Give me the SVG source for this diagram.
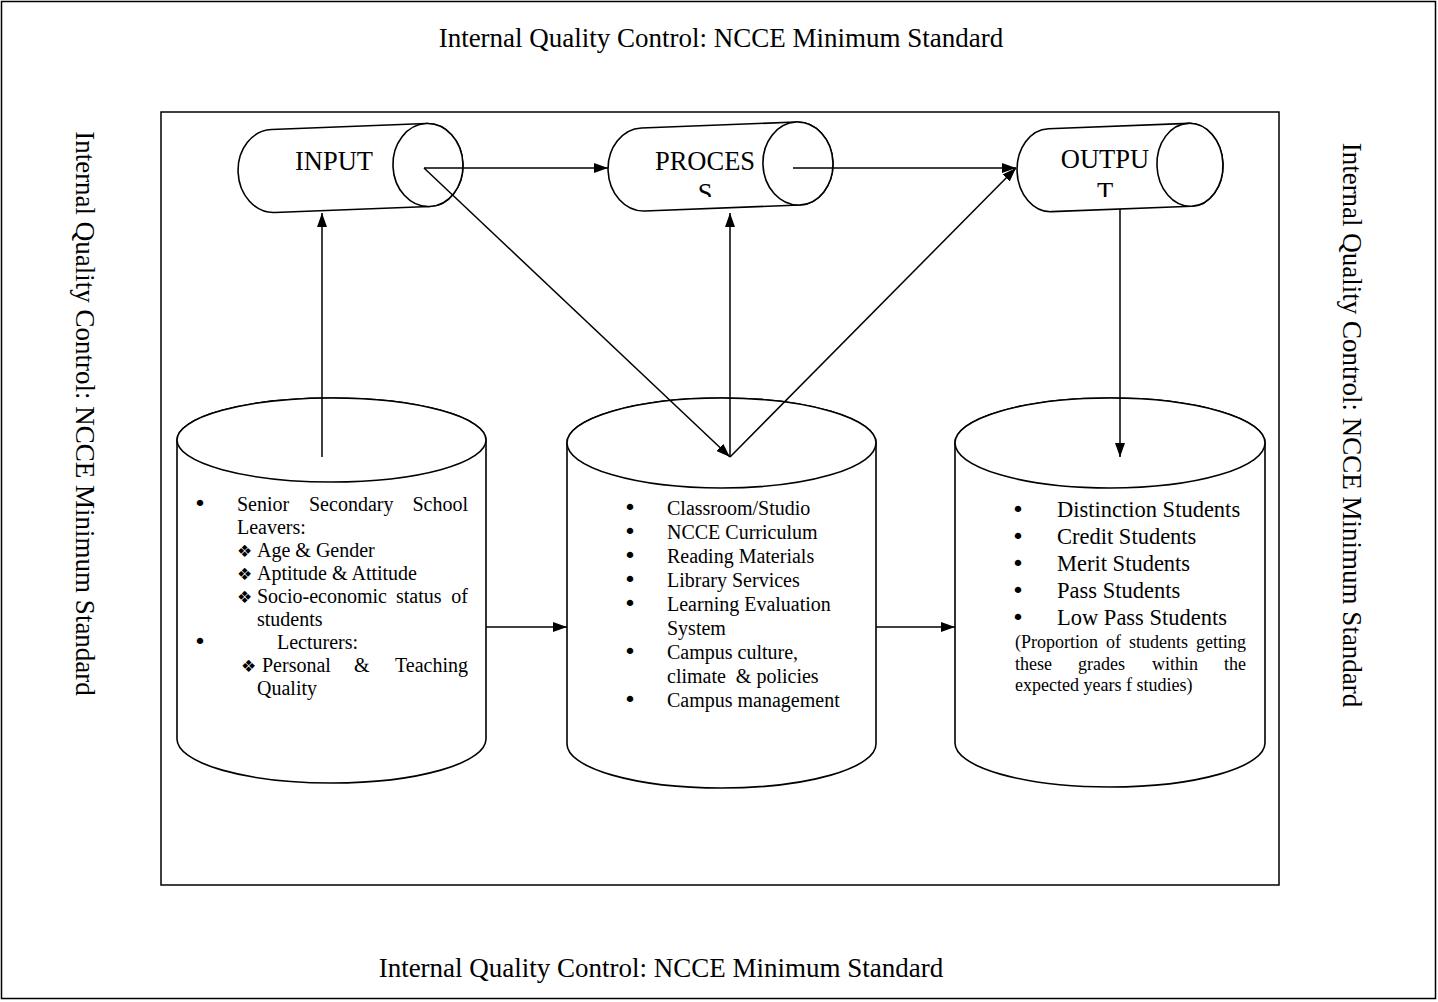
<svg xmlns="http://www.w3.org/2000/svg" width="1438" height="1002" viewBox="0 0 1438 1002">
<style>
text{font-family:"Liberation Serif","Times New Roman",serif;fill:#000}
.frame{fill:none;stroke:#000;stroke-width:1.5}
.cyl{fill:#fff;stroke:#000;stroke-width:1.6}
.ln{fill:none;stroke:#000;stroke-width:1.5}
.arr{marker-end:url(#ah)}
.title{font-size:27px}
.lbl{font-size:26.5px;text-anchor:middle}
.t20{font-size:20px}
.t22{font-size:22.5px}
.t18{font-size:18px}
.dg{font-family:"DejaVu Sans",sans-serif;font-size:17px}
.bul{font-family:"DejaVu Sans",sans-serif;font-size:22px;text-anchor:middle}
.end{text-anchor:end}
.pre{white-space:pre}
</style>
<defs>
<marker id="ah" viewBox="0 0 14 10" refX="14" refY="5" markerWidth="14" markerHeight="10" markerUnits="userSpaceOnUse" orient="auto">
<path d="M0,0 L14,5 L0,10 z" fill="#000"/>
</marker>
<clipPath id="clipP"><rect x="600" y="100" width="250" height="97"/></clipPath>
<clipPath id="clipO"><rect x="1000" y="100" width="250" height="97"/></clipPath>
</defs>
<rect width="1438" height="1002" fill="#fff"/>
<rect class="frame" x="1.5" y="1.5" width="1434" height="997"/>
<rect class="frame" x="161" y="112" width="1118" height="773"/>

<text class="title" text-anchor="middle" x="721" y="47">Internal Quality Control: NCCE Minimum Standard</text>
<text class="title" text-anchor="middle" x="661" y="977">Internal Quality Control: NCCE Minimum Standard</text>
<text class="title" text-anchor="middle" transform="translate(76,413.5) rotate(90)">Internal Quality Control: NCCE Minimum Standard</text>
<text class="title" text-anchor="middle" transform="translate(1343,425) rotate(90)">Internal Quality Control: NCCE Minimum Standard</text>

<g id="input">
<g transform="translate(350.5,168) rotate(-2.2)">
<path class="cyl" d="M-77.5,-41.5 L77.5,-41.5 A35,41.5 0 0 1 77.5,41.5 L-77.5,41.5 A35,41.5 0 0 1 -77.5,-41.5 Z"/>
<ellipse class="cyl" cx="77.5" cy="0" rx="35" ry="41.5"/>
</g>
<text class="lbl" x="334" y="170">INPUT</text>
</g>

<g id="process">
<g transform="translate(720.5,166.5) rotate(-2.2)">
<path class="cyl" d="M-77.5,-41.5 L77.5,-41.5 A35,41.5 0 0 1 77.5,41.5 L-77.5,41.5 A35,41.5 0 0 1 -77.5,-41.5 Z"/>
<ellipse class="cyl" cx="77.5" cy="0" rx="35" ry="41.5"/>
</g>
<text class="lbl" x="705" y="170">PROCES</text>
<text class="lbl" x="705" y="202" clip-path="url(#clipP)">S</text>
</g>

<g id="output">
<g transform="translate(1120,167.5) rotate(-2.2)">
<path class="cyl" d="M-70,-41.5 L70,-41.5 A33,41.5 0 0 1 70,41.5 L-70,41.5 A33,41.5 0 0 1 -70,-41.5 Z"/>
<ellipse class="cyl" cx="70" cy="0" rx="33" ry="41.5"/>
</g>
<text class="lbl" x="1105" y="168">OUTPU</text>
<text class="lbl" x="1105" y="201" clip-path="url(#clipO)">T</text>
</g>

<g id="inputs-store">
<path class="cyl" d="M177,440 L177,739 A154.5,44 0 0 0 486,739 L486,440 A154.5,42 0 0 0 177,440 Z"/>
<ellipse class="cyl" cx="331.5" cy="440" rx="154.5" ry="42"/>
<g class="t20">
<text class="bul" x="200" y="511">•</text>
<text x="237" y="511">Senior</text>
<text x="309" y="511">Secondary</text>
<text class="end" x="468" y="511">School</text>
<text x="237" y="534">Leavers:</text>
<text class="dg" x="237" y="557">❖</text><text x="257" y="557">Age &amp; Gender</text>
<text class="dg" x="237" y="580">❖</text><text x="257" y="580">Aptitude &amp; Attitude</text>
<text class="dg" x="237" y="603">❖</text><text x="257" y="603">Socio-economic</text>
<text x="396" y="603">status</text>
<text class="end" x="468" y="603">of</text>
<text x="257" y="626">students</text>
<text class="bul" x="200" y="649">•</text>
<text x="277" y="649">Lecturers:</text>
<text class="dg" x="241" y="672">❖</text><text x="262" y="672">Personal</text>
<text x="354" y="672">&amp;</text>
<text class="end" x="468" y="672">Teaching</text>
<text x="257" y="695">Quality</text>
</g>
</g>

<g id="process-store">
<path class="cyl" d="M567,443 L567,744 A154.5,44 0 0 0 876,744 L876,443 A154.5,45 0 0 0 567,443 Z"/>
<ellipse class="cyl" cx="721.5" cy="443" rx="154.5" ry="45"/>
<g class="t20">
<text class="bul" x="630" y="515">•</text><text x="667" y="515">Classroom/Studio</text>
<text class="bul" x="630" y="539">•</text><text x="667" y="539">NCCE Curriculum</text>
<text class="bul" x="630" y="563">•</text><text x="667" y="563">Reading Materials</text>
<text class="bul" x="630" y="587">•</text><text x="667" y="587">Library Services</text>
<text class="bul" x="630" y="611">•</text><text x="667" y="611">Learning Evaluation</text>
<text x="667" y="635">System</text>
<text class="bul" x="630" y="659">•</text><text x="667" y="659">Campus culture,</text>
<text class="pre" x="667" y="683">climate  &amp; policies</text>
<text class="bul" x="630" y="707">•</text><text x="667" y="707">Campus management</text>
</g>
</g>

<g id="output-store">
<path class="cyl" d="M955,443 L955,743 A155,44 0 0 0 1265,743 L1265,443 A155,45 0 0 0 955,443 Z"/>
<ellipse class="cyl" cx="1110" cy="443" rx="155" ry="45"/>
<g class="t22">
<text class="bul" x="1018" y="517">•</text><text x="1057" y="517">Distinction Students</text>
<text class="bul" x="1018" y="544">•</text><text x="1057" y="544">Credit Students</text>
<text class="bul" x="1018" y="571">•</text><text x="1057" y="571">Merit Students</text>
<text class="bul" x="1018" y="598">•</text><text x="1057" y="598">Pass Students</text>
<text class="bul" x="1018" y="625">•</text><text x="1057" y="625">Low Pass Students</text>
</g>
<g class="t18">
<text x="1015" y="648">(Proportion</text>
<text x="1106" y="648">of</text>
<text x="1129" y="648">students</text>
<text class="end" x="1246" y="648">getting</text>
<text x="1015" y="670">these</text>
<text x="1078" y="670">grades</text>
<text x="1152" y="670">within</text>
<text class="end" x="1246" y="670">the</text>
<text x="1015" y="691">expected years f studies)</text>
</g>
</g>

<g id="connectors">
<line class="ln arr" x1="424" y1="168" x2="608" y2="168"/>
<line class="ln arr" x1="793" y1="168" x2="1016" y2="168"/>
<line class="ln arr" x1="424" y1="168" x2="730" y2="457"/>
<line class="ln arr" x1="730" y1="457" x2="730" y2="213"/>
<line class="ln arr" x1="730" y1="457" x2="1016" y2="168"/>
<line class="ln arr" x1="322" y1="457" x2="322" y2="213"/>
<line class="ln arr" x1="1120" y1="209" x2="1120" y2="457"/>
<line class="ln arr" x1="486" y1="627" x2="567" y2="627"/>
<line class="ln arr" x1="876" y1="627" x2="955" y2="627"/>
</g>
</svg>
